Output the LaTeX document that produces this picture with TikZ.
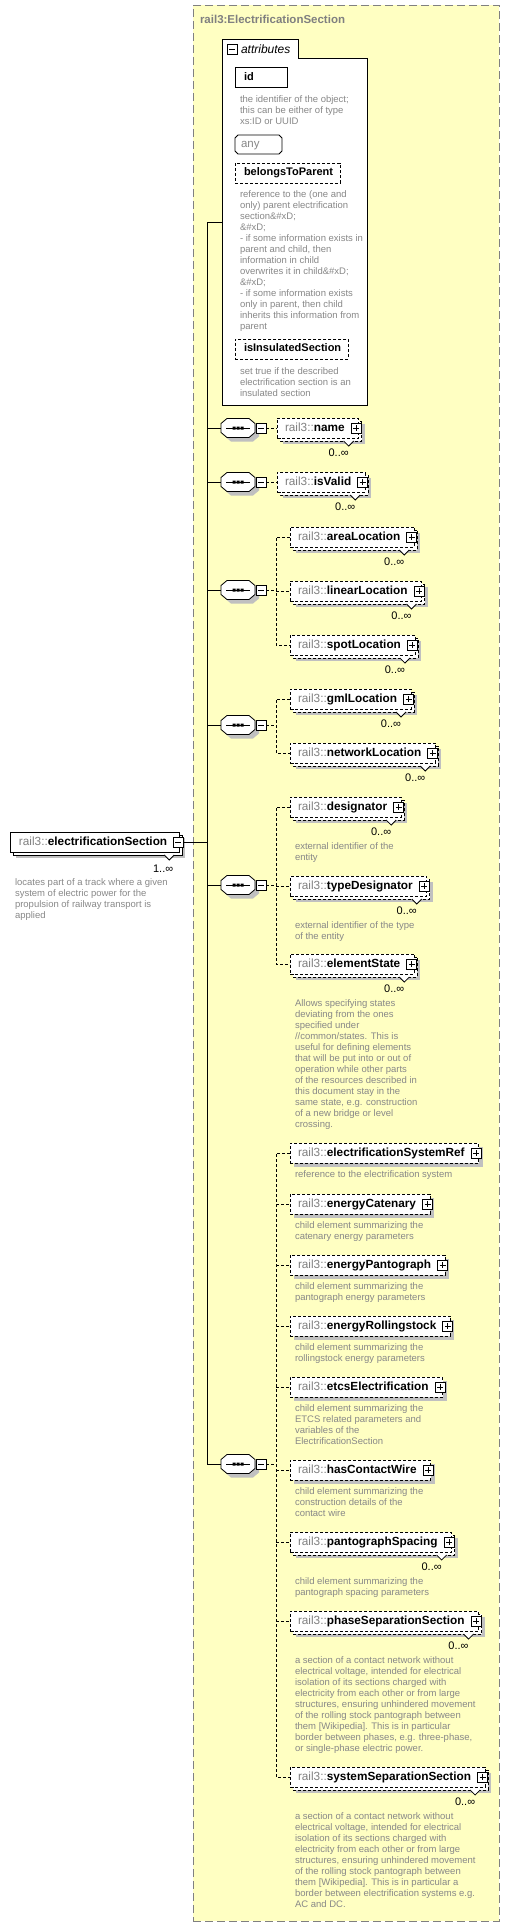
\documentclass[tikz,border=0pt]{standalone}
\usepackage{fontspec}
\setmainfont{Liberation Sans}
\usetikzlibrary{calc}
\definecolor{ybg}{RGB}{255,255,194}
\definecolor{ybd}{RGB}{128,128,128}
\definecolor{dgray}{RGB}{136,136,136}
\definecolor{pfx}{RGB}{128,128,128}
\definecolor{shd}{RGB}{192,192,192}
\pgfdeclarelayer{bg}
\pgfdeclarelayer{shadow}
\pgfdeclarelayer{back}
\pgfsetlayers{bg,shadow,back,main}
\newcommand\elname[1]{\hspace*{8pt}{\color{pfx}rail3::}\textbf{#1}\hspace*{14pt}}
\tikzset{
  every node/.style={inner sep=0pt,outer sep=0pt},
  lw/.style={line width=0.8pt},
  dsh/.style={dash pattern=on 3pt off 2pt},
  elbox/.style={draw,lw,dsh,fill=white,minimum height=20pt,anchor=west,text height=8.5pt,text depth=2.5pt,font=\fontsize{11.8}{13}\selectfont},
  backbox/.style={draw,lw,dsh,fill=white},
  sqbox/.style={draw,lw,fill=white,minimum size=10pt},
  icl/.style={lw},
  card/.style={font=\fontsize{11}{13}\selectfont,anchor=east,text height=8pt,text depth=0pt},
  desc/.style={font=\fontsize{9.5}{11}\selectfont,text=dgray,align=left,anchor=north west},
  dcon/.style={lw,dsh},
  scon/.style={line width=1pt},
  seqn/.style={minimum width=34pt,minimum height=19pt},
  abox/.style={draw,lw,fill=white,minimum height=20pt,anchor=west,text height=8pt,text depth=2.5pt,font=\fontsize{11}{13}\selectfont\bfseries},
  ybox/.style={draw=ybd,fill=ybg,line width=0.8pt,dash pattern=on 8pt off 4pt,anchor=north west},
}
\newcommand\plusicon[2]{\node[sqbox] (#1) at #2 {};
  \draw[icl] ($(#1.center)+(-3,0)$) -- ($(#1.center)+(3,0)$);
  \draw[icl] ($(#1.center)+(0,-3)$) -- ($(#1.center)+(0,3)$);}
\newcommand\minusicon[2]{\node[sqbox] (#1) at #2 {};
  \draw[icl] ($(#1.center)+(-3,0)$) -- ($(#1.center)+(3,0)$);}
\newcommand\melem[4]{%
  \node[elbox] (#1) at (#2,#3) {\elname{#4}};
  \begin{pgfonlayer}{back}
    \draw[backbox] ($(#1.north west)+(3,3)$) rectangle ($(#1.south east)+(3,3)$);
  \end{pgfonlayer}
  \begin{pgfonlayer}{shadow}
    \fill[shd] ($(#1.north west)+(6,6)$) rectangle ($(#1.south east)+(6,6)$);
  \end{pgfonlayer}
  \draw[lw,fill=white] ($(#1.south east)+(-15,3)$) -- ++(5,5) -- ++(5,-5);
  \plusicon{#1-p}{($(#1.east)+(-2.5,0)$)}
  \node[card] (#1-c) at ($(#1.east)+(-10,24)$) {0..∞};
}
\newcommand\selem[4]{%
  \node[elbox] (#1) at (#2,#3) {\elname{#4}};
  \begin{pgfonlayer}{shadow}
    \fill[shd] ($(#1.north west)+(4,4)$) rectangle ($(#1.south east)+(4,4)$);
  \end{pgfonlayer}
  \plusicon{#1-p}{($(#1.east)+(-2.5,0)$)}
}
\newcommand\mdesc[2]{\node[desc] (#1-d) at ($(#1.west)+(5,35.5)$) {#2};}
\newcommand\sdesc[2]{\node[desc] (#1-d) at ($(#1.west)+(5,17.5)$) {#2};}
\newcommand\octpath{(-17,-4.5)--(-11,-9.5)--(11,-9.5)--(17,-4.5)--(17,4.5)--(11,9.5)--(-11,9.5)--(-17,4.5)--cycle}
\newcommand\seqc[2]{%
  \node[seqn] (#1) at (238,#2) {};
  \begin{pgfonlayer}{shadow}
    \fill[shd,shift={($(#1.center)+(4,4)$)}] \octpath;
  \end{pgfonlayer}
  \draw[lw,fill=white,shift={(#1.center)}] \octpath;
  \draw[lw,shift={(#1.center)}] (-12,0)--(12,0);
  \fill[shift={(#1.center)}] (-5.5,-1.5) rectangle (-2.5,1.5) (-1.5,-1.5) rectangle (1.5,1.5) (2.5,-1.5) rectangle (5.5,1.5);
  \minusicon{#1m}{($(#1.east)+(6,0)$)}
}
\begin{document}
\begin{tikzpicture}[x=1pt,y=-1pt]
\useasboundingbox (0,0) rectangle (510,1927);
\begin{pgfonlayer}{bg}
\node[ybox,minimum width=306pt,minimum height=1916pt] (ctype) at (193,5) {};
\end{pgfonlayer}
\node[font=\fontsize{11.5}{13}\selectfont\bfseries,text=ybd,anchor=base west] (ttl) at (200,24) {rail3:ElectrificationSection};

% attributes group
\draw[lw,fill=white] (222,405)--(222,39)--(298,39)--(298,58)--(367,58)--(367,405)--cycle;
\node[minimum width=145pt,minimum height=347pt,anchor=north west] (attr) at (222,58) {};
\minusicon{attrm}{(232,49.5)}
\node[font=\fontsize{12}{14}\selectfont\itshape,anchor=west] (attrt) at (241,49.5) {attributes};

\node[abox] (aid) at (235,77.5) {\hspace*{9pt}\makebox[43pt][l]{id}};
\begin{pgfonlayer}{shadow}\fill[shd] ($(aid.north west)+(4,4)$) rectangle ($(aid.south east)+(4,4)$);\end{pgfonlayer}
\node[desc] (aid-d) at (240,95.5) {the identifier of the object;\\this can be either of type\\xs:ID or UUID};

\node[minimum width=47pt,minimum height=19pt,anchor=west] (aany) at (235,144.5) {};
\begin{pgfonlayer}{shadow}\fill[shd,shift={($(aany.center)+(4,4)$)}] (-23.5,-6.5)--(-20.5,-9.5)--(20.5,-9.5)--(23.5,-6.5)--(23.5,6.5)--(20.5,9.5)--(-20.5,9.5)--(-23.5,6.5)--cycle;\end{pgfonlayer}
\draw[lw,fill=white,shift={(aany.center)}] (-23.5,-6.5)--(-20.5,-9.5)--(20.5,-9.5)--(23.5,-6.5)--(23.5,6.5)--(20.5,9.5)--(-20.5,9.5)--(-23.5,6.5)--cycle;
\node[font=\fontsize{11.5}{13}\selectfont,text=dgray,anchor=west,text height=8pt,text depth=2.5pt] (aanyt) at (241,144.5) {any};

\node[abox,dsh] (abel) at (235,173) {\hspace*{9pt}belongsToParent\hspace*{7pt}};
\begin{pgfonlayer}{shadow}\fill[shd] ($(abel.north west)+(4,4)$) rectangle ($(abel.south east)+(4,4)$);\end{pgfonlayer}
\node[desc] (abel-d) at (240,190.5) {reference to the (one and\\only) parent electrification\\section\&\#xD;\\\&\#xD;\\- if some information exists in\\parent and child, then\\information in child\\overwrites it in child\&\#xD;\\\&\#xD;\\- if some information exists\\only in parent, then child\\inherits this information from\\parent};

\node[abox,dsh] (ains) at (235,349) {\hspace*{9pt}isInsulatedSection\hspace*{7pt}};
\begin{pgfonlayer}{shadow}\fill[shd] ($(ains.north west)+(4,4)$) rectangle ($(ains.south east)+(4,4)$);\end{pgfonlayer}
\node[desc] (ains-d) at (240,367.5) {set true if the described\\electrification section is an\\insulated section};

% root element
\node[elbox,solid] (root) at (10,842) {\hspace*{9pt}{\color{pfx}rail3::}\textbf{electrificationSection}\hspace*{12pt}};
\begin{pgfonlayer}{back}
  \draw[lw,fill=white] ($(root.north west)+(3,3)$) rectangle ($(root.south east)+(3,3)$);
\end{pgfonlayer}
\begin{pgfonlayer}{shadow}
  \fill[shd] ($(root.north west)+(6,6)$) rectangle ($(root.south east)+(6,6)$);
\end{pgfonlayer}
\draw[lw,fill=white] ($(root.south east)+(-15,3)$) -- ++(5,5) -- ++(5,-5);
\minusicon{rootm}{($(root.east)+(-1,0)$)}
\node[card] (root-c) at ($(root.east)+(-6,26)$) {1..∞};
\node[desc] (root-d) at (15,878.5) {locates part of a track where a given\\system of electric power for the\\propulsion of railway transport is\\applied};

% sequences
\seqc{sA}{428}
\seqc{sB}{482}
\seqc{sC}{590}
\seqc{sD}{725}
\seqc{sE}{885}
\seqc{sF}{1464}

% elements
\melem{eName}{277}{428}{name}
\melem{eValid}{277}{482}{isValid}
\melem{eArea}{290}{537}{areaLocation}
\melem{eLin}{290}{591}{linearLocation}
\melem{eSpot}{290}{645}{spotLocation}
\melem{eGml}{290}{699}{gmlLocation}
\melem{eNet}{290}{753}{networkLocation}
\melem{eDes}{290}{807}{designator}
\mdesc{eDes}{external identifier of the\\entity}
\melem{eTyp}{290}{886}{typeDesignator}
\mdesc{eTyp}{external identifier of the type\\of the entity}
\melem{eSta}{290}{964}{elementState}
\mdesc{eSta}{Allows specifying states\\deviating from the ones\\specified under\\//common/states. This is\\useful for defining elements\\that will be put into or out of\\operation while other parts\\of the resources described in\\this document stay in the\\same state, e.g. construction\\of a new bridge or level\\crossing.}
\selem{eSys}{290}{1153}{electrificationSystemRef}
\sdesc{eSys}{reference to the electrification system}
\selem{eCat}{290}{1204}{energyCatenary}
\sdesc{eCat}{child element summarizing the\\catenary energy parameters}
\selem{ePan}{290}{1265}{energyPantograph}
\sdesc{ePan}{child element summarizing the\\pantograph energy parameters}
\selem{eRol}{290}{1326}{energyRollingstock}
\sdesc{eRol}{child element summarizing the\\rollingstock energy parameters}
\selem{eEtc}{290}{1387}{etcsElectrification}
\sdesc{eEtc}{child element summarizing the\\ETCS related parameters and\\variables of the\\ElectrificationSection}
\selem{eCon}{290}{1470}{hasContactWire}
\sdesc{eCon}{child element summarizing the\\construction details of the\\contact wire}
\melem{eSpa}{290}{1542}{pantographSpacing}
\mdesc{eSpa}{child element summarizing the\\pantograph spacing parameters}
\melem{ePha}{290}{1621}{phaseSeparationSection}
\mdesc{ePha}{a section of a contact network without\\electrical voltage, intended for electrical\\isolation of its sections charged with\\electricity from each other or from large\\structures, ensuring unhindered movement\\of the rolling stock pantograph between\\them [Wikipedia]. This is in particular\\border between phases, e.g. three-phase,\\or single-phase electric power.}
\melem{eSSe}{290}{1777}{systemSeparationSection}
\mdesc{eSSe}{a section of a contact network without\\electrical voltage, intended for electrical\\isolation of its sections charged with\\electricity from each other or from large\\structures, ensuring unhindered movement\\of the rolling stock pantograph between\\them [Wikipedia]. This is in particular a\\border between electrification systems e.g.\\AC and DC.}

% trunk connectors
\coordinate (tTop) at (207,222);
\coordinate (tBot) at (207,1464);
\draw[scon] (tTop -| attr.west) -- (tTop) -- (tBot) -- (sF.west);
\draw[scon] (rootm.east) -- (rootm.east -| tTop);
\draw[scon] (sA.west -| tTop) -- (sA.west);
\draw[scon] (sB.west -| tTop) -- (sB.west);
\draw[scon] (sC.west -| tTop) -- (sC.west);
\draw[scon] (sD.west -| tTop) -- (sD.west);
\draw[scon] (sE.west -| tTop) -- (sE.west);

% dashed branch connectors
\draw[dcon] (sAm.east) -- (eName.west);
\draw[dcon] (sBm.east) -- (eValid.west);
\coordinate (bC) at (276,590);
\draw[dcon] (sCm.east) -- (bC);
\draw[dcon] (eArea.west) -- (eArea.west -| bC) -- (eSpot.west -| bC) -- (eSpot.west);
\draw[dcon] (eLin.west -| bC) -- (eLin.west);
\coordinate (bD) at (276,725);
\draw[dcon] (sDm.east) -- (bD);
\draw[dcon] (eGml.west) -- (eGml.west -| bD) -- (eNet.west -| bD) -- (eNet.west);
\coordinate (bE) at (276,885);
\draw[dcon] (sEm.east) -- (bE);
\draw[dcon] (eDes.west) -- (eDes.west -| bE) -- (eSta.west -| bE) -- (eSta.west);
\draw[dcon] (eTyp.west -| bE) -- (eTyp.west);
\coordinate (bF) at (276,1464);
\draw[dcon] (sFm.east) -- (bF);
\draw[dcon] (eSys.west) -- (eSys.west -| bF) -- (eSSe.west -| bF) -- (eSSe.west);
\draw[dcon] (eCat.west -| bF) -- (eCat.west);
\draw[dcon] (ePan.west -| bF) -- (ePan.west);
\draw[dcon] (eRol.west -| bF) -- (eRol.west);
\draw[dcon] (eEtc.west -| bF) -- (eEtc.west);
\draw[dcon] (eCon.west -| bF) -- (eCon.west);
\draw[dcon] (eSpa.west -| bF) -- (eSpa.west);
\draw[dcon] (ePha.west -| bF) -- (ePha.west);
\end{tikzpicture}
\end{document}
